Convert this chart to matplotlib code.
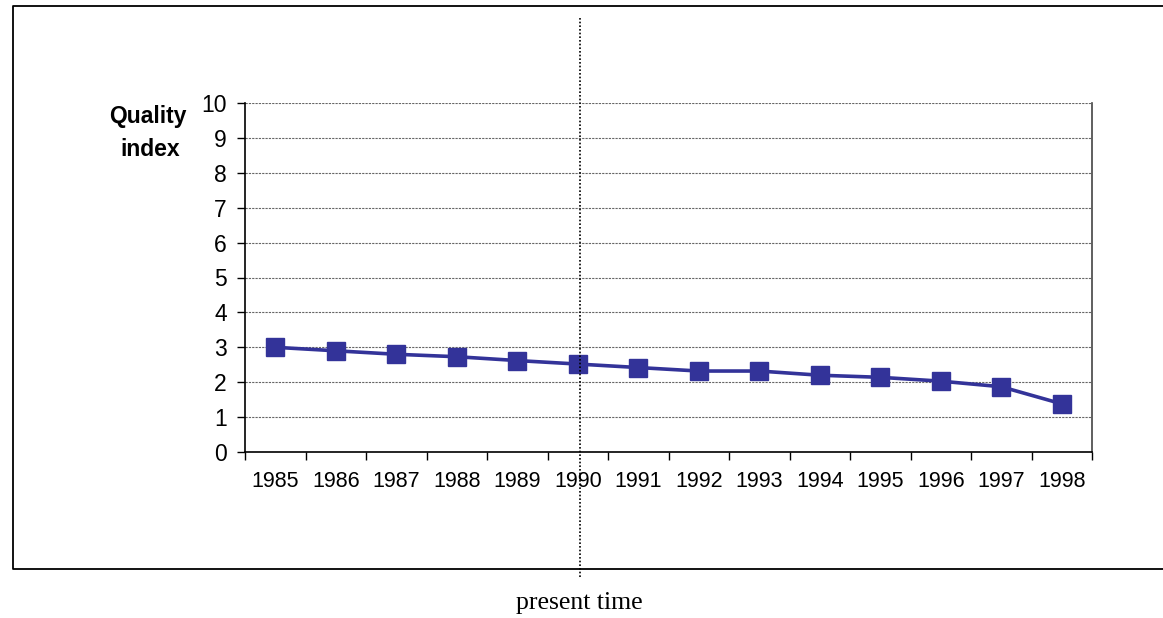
import matplotlib
matplotlib.use("Agg")
import matplotlib.pyplot as plt
from matplotlib.lines import Line2D
from matplotlib.ticker import FixedLocator, NullFormatter, FixedFormatter

years = ["1985", "1986", "1987", "1988", "1989", "1990", "1991",
         "1992", "1993", "1994", "1995", "1996", "1997", "1998"]
quality = [3.0, 2.9, 2.8, 2.73, 2.62, 2.52, 2.42, 2.32, 2.32, 2.2, 2.14, 2.03, 1.87, 1.38]
y_ticks = [0, 1, 2, 3, 4, 5, 6, 7, 8, 9, 10]
present_year = "1990"

W, H = 1163, 618
fig = plt.figure(figsize=(W / 100, H / 100), dpi=100)
fig.patch.set_facecolor("white")

ax = fig.add_axes([245 / W, 1 - 452 / H, (1092 - 245) / W, (452 - 103) / H])
x = list(range(len(years)))
ax.plot(x, quality, color="#333399", lw=2.6, marker="s", markersize=13.5,
        markerfacecolor="#333399", markeredgecolor="#333399", zorder=3,
        clip_on=False)

ax.set_xlim(-0.5, len(years) - 0.5)
ax.set_ylim(0, 10)
ax.set_yticks(y_ticks)
ax.set_yticklabels([str(v) for v in y_ticks], fontsize=16.5, family="Liberation Sans")
ax.xaxis.set_major_locator(FixedLocator([i - 0.5 for i in range(len(years) + 1)]))
ax.xaxis.set_major_formatter(NullFormatter())
ax.xaxis.set_minor_locator(FixedLocator(x))
ax.xaxis.set_minor_formatter(FixedFormatter(years))
ax.tick_params(axis="x", which="minor", length=0, pad=14, labelsize=15.5)
ax.tick_params(axis="x", which="major", length=6, width=1, direction="out")
ax.tick_params(axis="y", length=6, width=1, direction="out", pad=7)
for lbl in ax.get_xticklabels(minor=True):
    lbl.set_family("Liberation Sans")

ax.yaxis.grid(True, color="#666666", linestyle=(0, (2.0, 1.0)), lw=0.8)
ax.set_axisbelow(True)
for s in ["left", "bottom"]:
    ax.spines[s].set_color("black")
    ax.spines[s].set_linewidth(1.2)
ax.spines["right"].set_color("#444444")
ax.spines["right"].set_linewidth(1.2)
ax.spines["top"].set_visible(False)

fig.text(187 / W, 1 - 117 / H, "Quality", ha="right", va="center",
         fontsize=16.5, fontweight="bold", family="Liberation Sans")
fig.text(180 / W, 1 - 149 / H, "index", ha="right", va="center",
         fontsize=16.5, fontweight="bold", family="Liberation Sans")

# outer frame (top, left, bottom)
fig.add_artist(Line2D([1.0, 13 / W, 13 / W, 1.0],
                      [1 - 5.5 / H, 1 - 5.5 / H, 1 - 569 / H, 1 - 569 / H],
                      color="black", lw=1.3, transform=fig.transFigure))

# present time dotted line
px = years.index(present_year)
xd = ax.transData.transform((px, 0))[0] / W + 2 / W
fig.add_artist(Line2D([xd, xd], [1 - 18 / H, 1 - 577 / H], color="black",
                      lw=1.2, linestyle=(0, (1.0, 1.2)),
                      transform=fig.transFigure, zorder=5))
fig.text(xd, 1 - 603 / H, "present time", ha="center", va="center",
         fontsize=18.5, family="Liberation Serif")

fig.savefig("out.png", dpi=100)
